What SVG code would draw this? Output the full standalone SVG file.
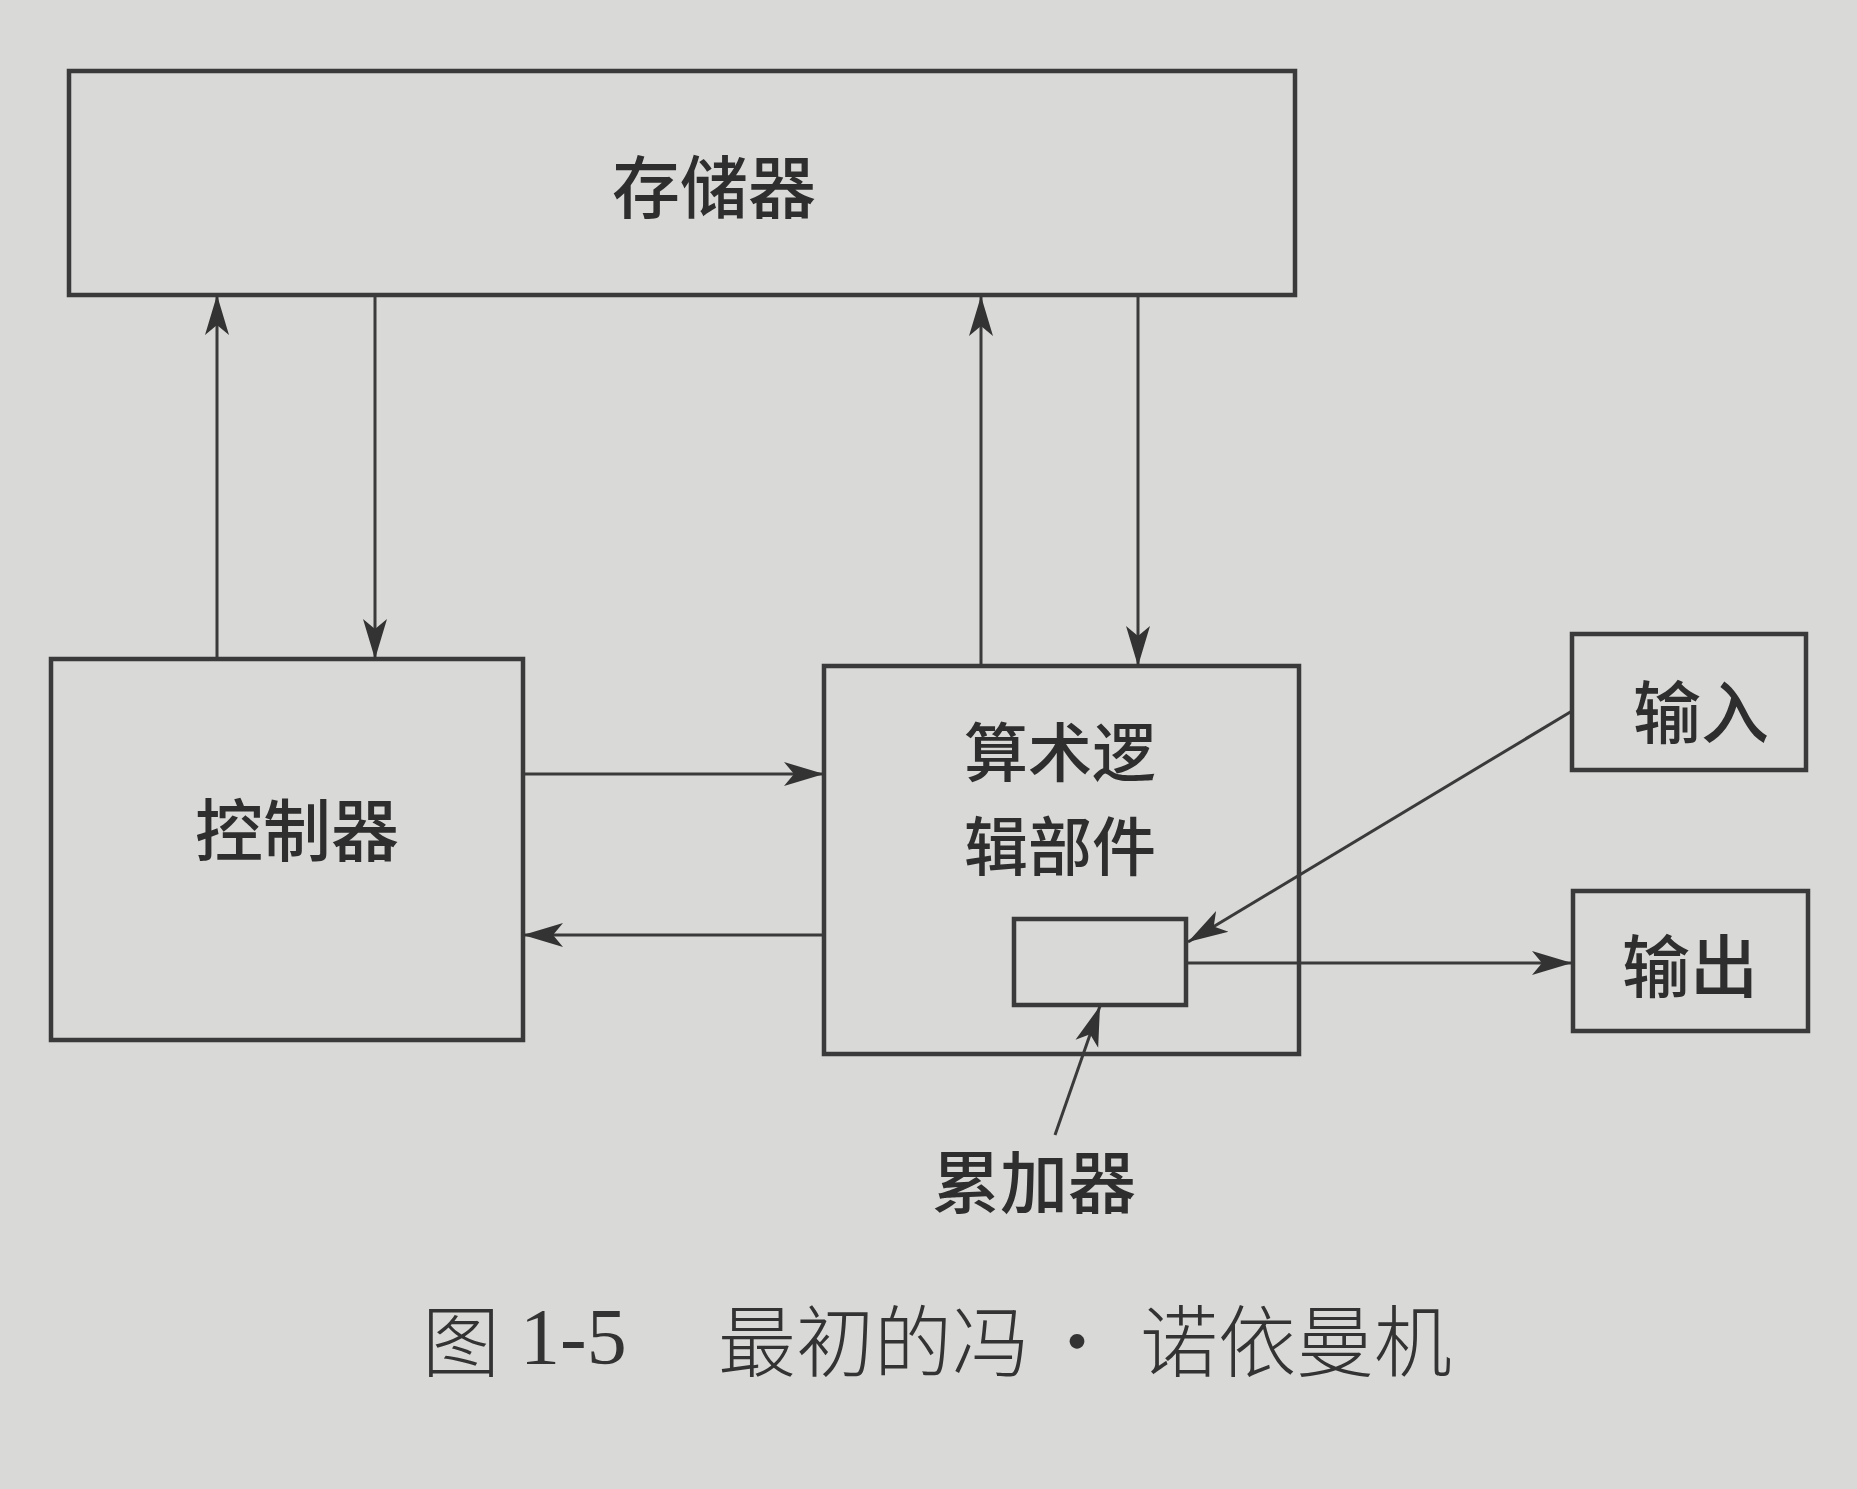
<svg xmlns="http://www.w3.org/2000/svg" width="1857" height="1489" viewBox="0 0 1857 1489">
<style>
.box{fill:none;stroke:#3a3a3a;stroke-width:4.5}
.ln{fill:none;stroke:#3a3a3a;stroke-width:3}
.lbl{font-family:"Noto Sans CJK SC","Noto Sans",sans-serif;font-size:68px;font-weight:500;fill:#2e2e2e;text-anchor:middle;dominant-baseline:central}
.alu{font-size:64px}
.cap{font-family:"Noto Sans CJK SC","Noto Sans",sans-serif;font-size:78px;font-weight:300;fill:#333;dominant-baseline:central}
.num{font-family:"Liberation Serif","Noto Sans CJK SC",serif;font-size:80px;fill:#333;dominant-baseline:central}
</style>
<defs>
<marker id="ah" markerUnits="userSpaceOnUse" markerWidth="42" markerHeight="26" viewBox="0 0 42 26" refX="40" refY="13" orient="auto">
<path d="M0,1 L40,13 L0,25 L10,13 Z" fill="#333"/>
</marker>
</defs>
<rect width="1857" height="1489" fill="#d9dad7"/>
<g id="memory">
<rect class="box" x="69" y="71" width="1226" height="224"/>
<text class="lbl" x="714" y="183">存储器</text>
</g>
<g id="controller">
<rect class="box" x="51" y="659" width="472" height="381"/>
<text class="lbl" x="297" y="826">控制器</text>
</g>
<g id="alu">
<rect class="box" x="824" y="666" width="475" height="388"/>
<text class="lbl alu" x="1060" y="748">算术逻</text>
<text class="lbl alu" x="1060" y="842">辑部件</text>
</g>
<g id="accumulator">
<rect class="box" x="1014" y="919" width="172" height="86"/>
</g>
<g id="accumulator-label">
<text class="lbl" x="1034" y="1178">累加器</text>
</g>
<g id="input">
<rect class="box" x="1572" y="634" width="234" height="136"/>
<text class="lbl" x="1701" y="708">输入</text>
</g>
<g id="output">
<rect class="box" x="1573" y="891" width="235" height="140"/>
<text class="lbl" x="1690" y="962">输出</text>
</g>
<g id="connectors">
<line class="ln" x1="217" y1="659" x2="217" y2="295" marker-end="url(#ah)"/>
<line class="ln" x1="375" y1="295" x2="375" y2="659" marker-end="url(#ah)"/>
<line class="ln" x1="981" y1="666" x2="981" y2="296" marker-end="url(#ah)"/>
<line class="ln" x1="1138" y1="297" x2="1138" y2="666" marker-end="url(#ah)"/>
<line class="ln" x1="523" y1="774" x2="824" y2="774" marker-end="url(#ah)"/>
<line class="ln" x1="824" y1="935" x2="523" y2="935" marker-end="url(#ah)"/>
<line class="ln" x1="1572" y1="711" x2="1188" y2="942" marker-end="url(#ah)"/>
<line class="ln" x1="1186" y1="963" x2="1572" y2="963" marker-end="url(#ah)"/>
<line class="ln" x1="1055" y1="1135" x2="1100" y2="1006" marker-end="url(#ah)"/>
</g>
<g id="caption">
<text class="cap" x="422" y="1337">图</text>
<text class="num" x="520" y="1337">1-5</text>
<text class="cap" x="718" y="1337">最初的冯</text>
<text class="cap" x="1077" y="1337" text-anchor="middle">·</text>
<text class="cap" x="1140" y="1337">诺依曼机</text>
</g>
</svg>
